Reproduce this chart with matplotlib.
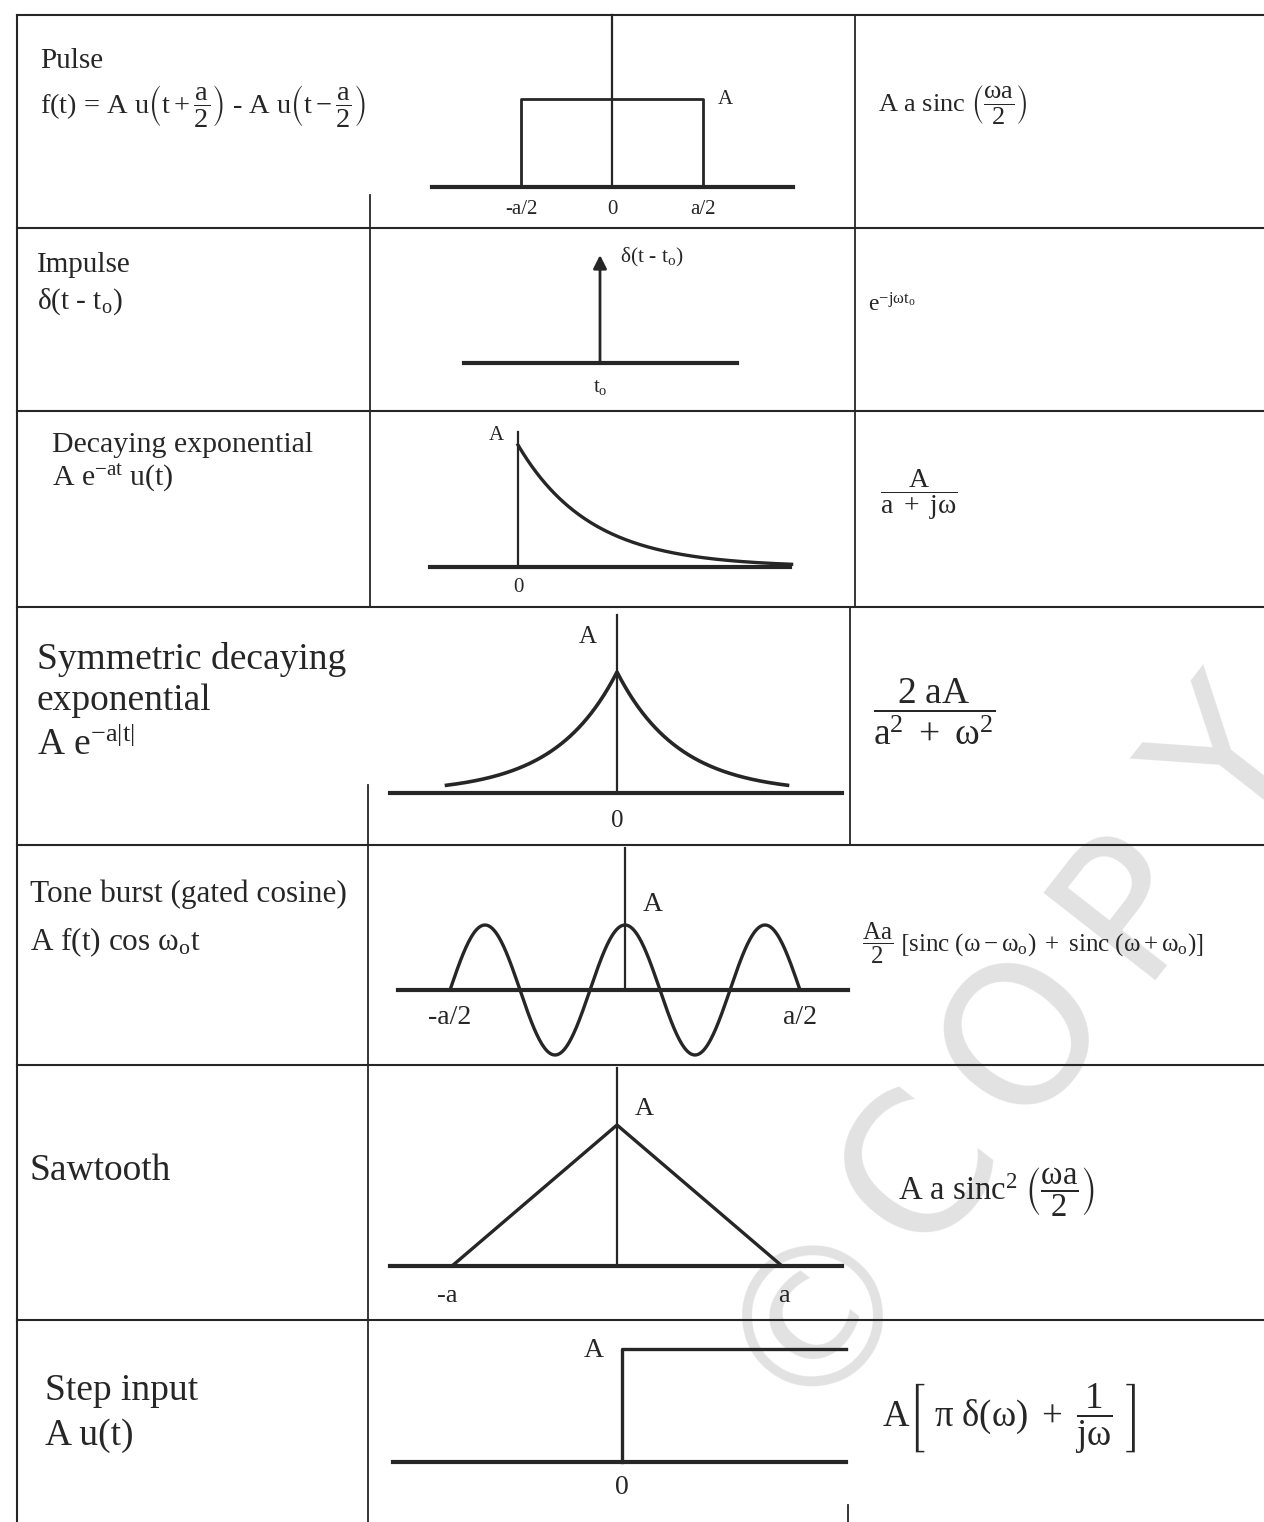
import numpy as np
import matplotlib.pyplot as plt

# table of Fourier transform pairs, redrawn from a scanned sheet

W, H = 1264, 1522
INK = '#262626'

plt.rcParams['font.family'] = ['Liberation Serif', 'DejaVu Serif']
plt.rcParams['mathtext.fontset'] = 'stix'
plt.rcParams['mathtext.default'] = 'regular'

# ---- signal parameters ----
pulse_edges = [-1.0, 1.0]      # -a/2, a/2  (a = 2)
pulse_amp = 1.0
impulse_t0 = 0.0
impulse_amp = 1.0
decay_amp = 1.0
decay_rate = 1.0
decay_span = [0.0, 3.8]
sym_amp = 1.0
sym_rate = 1.0
sym_span = [-2.75, 2.75]
tone_amp = 1.0
tone_gate = 2.5                # a, in periods of the cosine
tone_omega = 2 * np.pi
saw_amp = 1.0
saw_a = 1.0
step_amp = 1.0

# ---- table geometry (pixels) ----
row_lines = [228, 411, 607, 845, 1065, 1320]
col1_segments = [(370, 195, 228), (370, 228, 607), (368, 785, 845), (368, 845, 1522)]
col2_segments = [(855, 15, 607), (850, 607, 845), (848, 1505, 1522)]

wm_chars = ['\u00a9', 'C', 'O', 'P', 'Y']

fig = plt.figure(figsize=(W / 100, H / 100), dpi=100)
bg = fig.add_axes([0, 0, 1, 1])
bg.set_xlim(0, W)
bg.set_ylim(H, 0)
bg.axis('off')

# watermark, one glyph at a time along a 52 degree line
ang = np.deg2rad(52)
for i, ch in enumerate(wm_chars):
    cx = 815 + i * 171 * np.cos(ang)
    cy = 1305 - i * 171 * np.sin(ang)
    bg.text(cx, cy, ch, fontsize=140, color='#e2e2e2', rotation=52, rotation_mode='anchor',
            ha='center', va='center', family='DejaVu Sans', zorder=0)

# table rules
bg.plot([17, W], [15, 15], color=INK, lw=1.5)
bg.plot([17, 17], [15, H], color=INK, lw=1.5)
for y in row_lines:
    bg.plot([17, W], [y, y], color=INK, lw=1.5)
for x, y0, y1 in col1_segments + col2_segments:
    bg.plot([x, x], [y0, y1], color=INK, lw=1.3)


def panel(left, right, top, bottom, x0, y0, sx, sy):
    ax = fig.add_axes([left / W, 1 - bottom / H, (right - left) / W, (bottom - top) / H])
    ax.set_xlim((left - x0) / sx, (right - x0) / sx)
    ax.set_ylim((y0 - bottom) / sy, (y0 - top) / sy)
    ax.axis('off')
    ax.axhline(0, color=INK, lw=3, clip_on=False)
    return ax


def label(ax, x, y, s, size, ha='center'):
    ax.text(x, y, s, fontsize=size, ha=ha, va='center', color=INK)


def vaxis(ax, top):
    ax.plot([0, 0], [0, top], color=INK, lw=1.6, clip_on=False)


# ---- left column: names ----
def name(x, y, s, size):
    bg.text(x, y, s, fontsize=size, ha='left', va='baseline', color=INK)


name(40, 68, 'Pulse', 21)
bg.text(40, 106, r'f(t) = A u$\left(t + \dfrac{a}{2}\right)$ - A u$\left(t - \dfrac{a}{2}\right)$',
        fontsize=20.5, ha='left', va='center', color=INK)
name(37, 272, 'Impulse', 21)
name(37, 309, r'$\delta$(t - t$_o$)', 21)
name(52, 452, 'Decaying exponential', 21.5)
name(52, 486, r'A e$^{-at}$ u(t)', 21.5)
name(37, 669, 'Symmetric decaying', 27)
name(37, 710, 'exponential', 27)
name(37, 755, r'A e$^{-a|t|}$', 27)
name(30, 902, 'Tone burst (gated cosine)', 22.5)
name(30, 950, r'A f(t) cos $\omega_o$t', 22.5)
name(30, 1180, 'Sawtooth', 27)
name(45, 1400, 'Step input', 27)
name(45, 1445, 'A u(t)', 27)

# ---- right column: transforms ----
def xform(x, y, s, size):
    bg.text(x, y, s, fontsize=size, ha='left', va='center', color=INK)


xform(878, 105, r'A a sinc $\left(\dfrac{\omega a}{2}\right)$', 19)
xform(868, 305, r'e$^{-j\omega t_o}$', 17)
xform(880, 495, r'$\dfrac{A}{a\ +\ j\omega}$', 20)
xform(873, 712, r'$\dfrac{2\ aA}{a^2\ +\ \omega^2}$', 27)
xform(862, 943, r'$\dfrac{Aa}{2}\ \left[sinc\ (\omega - \omega_o)\ +\ sinc\ (\omega + \omega_o)\right]$', 18)
xform(898, 1192, r'A a sinc$^2$ $\left(\dfrac{\omega a}{2}\right)$', 23.5)
xform(882, 1418, r'A$\left[\ \pi\ \delta(\omega)\ +\ \dfrac{1}{j\omega}\ \right]$', 26.5)

# ---- middle column: sketches ----
# pulse
ax = panel(432, 793, 15, 225, 612, 187, 91, 88)
vaxis(ax, ax.get_ylim()[1])
e0, e1 = pulse_edges
ax.plot([e0, e0, e1, e1], [0, pulse_amp, pulse_amp, 0], color=INK, lw=2, clip_on=False)
label(ax, e0, -0.26, '-a/2', 15)
label(ax, 0, -0.26, '0', 15)
label(ax, e1, -0.26, 'a/2', 15)
label(ax, e1 + 0.16, pulse_amp, 'A', 15, ha='left')

# impulse
ax = panel(464, 737, 240, 400, 600, 363, 100, 108)
ax.annotate('', xy=(impulse_t0, impulse_amp), xytext=(impulse_t0, 0),
            arrowprops=dict(arrowstyle='-|>', color=INK, lw=2, mutation_scale=20,
                            shrinkA=0, shrinkB=0))
label(ax, impulse_t0 + 0.2, impulse_amp * 0.98, r'$\delta$(t - t$_o$)', 15.5, ha='left')
label(ax, impulse_t0, -0.23, r't$_o$', 15)

# decaying exponential
ax = panel(430, 790, 425, 600, 518, 567, 72, 122)
vaxis(ax, 1.11 * decay_amp)
t = np.linspace(decay_span[0], decay_span[1], 300)
ax.plot(t, decay_amp * np.exp(-decay_rate * t), color=INK, lw=2.4, clip_on=False)
label(ax, -0.3, 1.08 * decay_amp, 'A', 15)
label(ax, 0, -0.17, '0', 15)

# symmetric decaying exponential
ax = panel(390, 842, 615, 835, 617, 793, 62, 121)
vaxis(ax, ax.get_ylim()[1])
t = np.linspace(sym_span[0], sym_span[1], 401)
ax.plot(t, sym_amp * np.exp(-sym_rate * np.abs(t)), color=INK, lw=2.6, clip_on=False)
label(ax, -0.47, 1.29 * sym_amp, 'A', 18)
label(ax, 0, -0.23, '0', 18)

# tone burst
ax = panel(398, 848, 848, 1040, 625, 990, 140, 65)
vaxis(ax, ax.get_ylim()[1])
t = np.linspace(-tone_gate / 2, tone_gate / 2, 400)
ax.plot(t, tone_amp * np.cos(tone_omega * t), color=INK, lw=2.4, clip_on=False)
label(ax, 0.13, 1.31 * tone_amp, 'A', 20, ha='left')
label(ax, -tone_gate / 2, -0.43, '-a/2', 20)
label(ax, tone_gate / 2, -0.43, 'a/2', 20)

# sawtooth
ax = panel(390, 842, 1068, 1310, 617, 1266, 165, 141)
vaxis(ax, ax.get_ylim()[1])
ax.plot([-saw_a, 0, saw_a], [0, saw_amp, 0], color=INK, lw=2.4, clip_on=False)
label(ax, 0.11, 1.11 * saw_amp, 'A', 19, ha='left')
label(ax, -saw_a - 0.03, -0.21, '-a', 19)
label(ax, saw_a + 0.01, -0.21, 'a', 19)

# step
ax = panel(393, 846, 1335, 1505, 622, 1462, 100, 113)
ax.plot([0, 0, ax.get_xlim()[1]], [0, step_amp, step_amp], color=INK, lw=2.4, clip_on=False)
label(ax, -0.28, 0.99 * step_amp, 'A', 20)
label(ax, 0, -0.23, '0', 20)

fig.savefig('out.png', dpi=100)
